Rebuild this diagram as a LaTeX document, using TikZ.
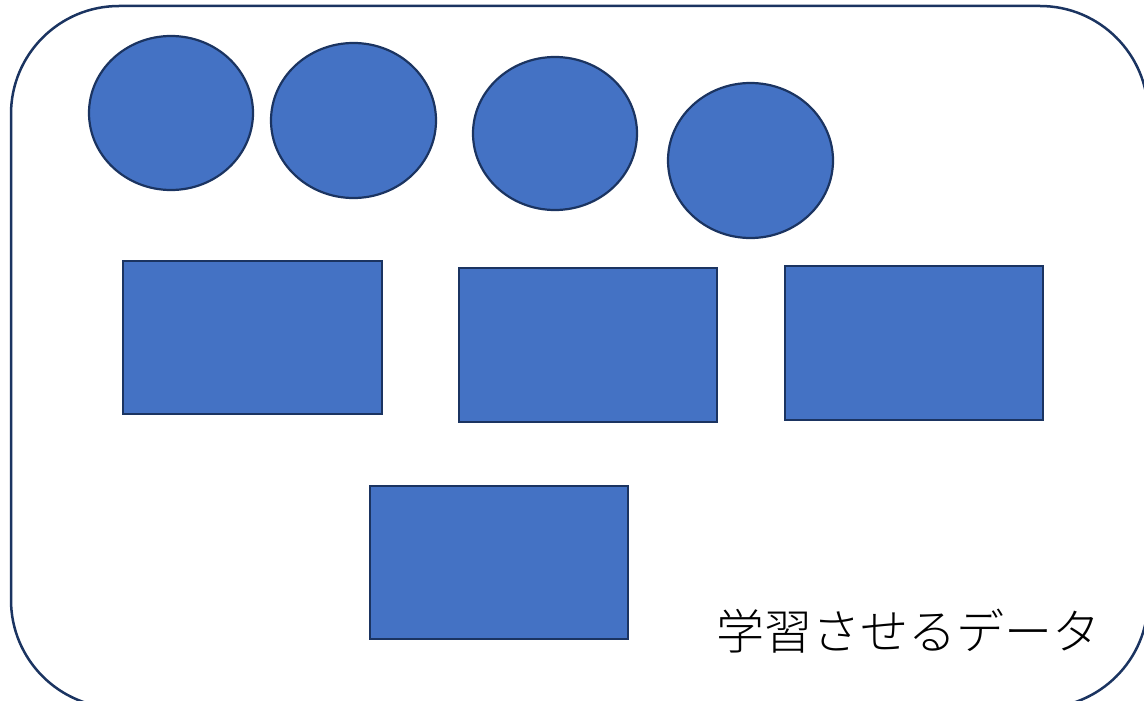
\documentclass[tikz,border=0pt]{standalone}
\usepackage{fontspec}
\IfFontExistsTF{Noto Sans CJK JP Light}
  {\newfontfamily\cjk{Noto Sans CJK JP Light}}
  {\newfontfamily\cjk{Noto Sans CJK JP}}
\usetikzlibrary{shapes.geometric}
\definecolor{shapefill}{HTML}{4472C4}
\definecolor{shapeline}{HTML}{1B3461}
\tikzset{
  blob/.style={ellipse, draw=shapeline, fill=shapefill, line width=2.2pt, inner sep=0pt},
  block/.style={rectangle, draw=shapeline, fill=shapefill, line width=2.2pt, inner sep=0pt},
  frame/.style={draw=shapeline, line width=2.5pt, rounded corners=108pt}
}
\begin{document}
\begin{tikzpicture}[x=1pt,y=-1pt]
\useasboundingbox (0,0) rectangle (1144,701);
\clip (0,0) rectangle (1144,701);
\fill[white] (0,0) rectangle (1144,701);
\draw[frame] (11,6) rectangle (1148,708);
\node[blob, minimum width=164pt, minimum height=154pt] (c1) at (171,113) {};
\node[blob, minimum width=165pt, minimum height=155pt] (c2) at (353.5,120.5) {};
\node[blob, minimum width=164pt, minimum height=153pt] (c3) at (555,133.5) {};
\node[blob, minimum width=165pt, minimum height=155pt] (c4) at (750.5,160.5) {};
\node[block, minimum width=259pt, minimum height=153pt] (r1) at (252.5,337.5) {};
\node[block, minimum width=258pt, minimum height=154pt] (r2) at (588,345) {};
\node[block, minimum width=258pt, minimum height=154pt] (r3) at (914,343) {};
\node[block, minimum width=258pt, minimum height=153pt] (r4) at (499,562.5) {};
\node[inner sep=0pt, font=\cjk\fontsize{48pt}{50pt}\selectfont] (lbl) at (908.5,631) {学習させるデータ};
\end{tikzpicture}
\end{document}
